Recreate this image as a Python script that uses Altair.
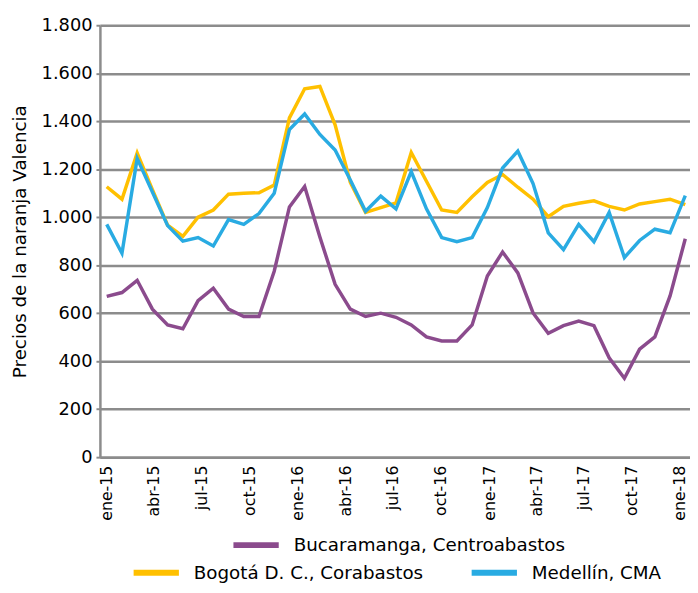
import altair as alt
import pandas as pd

# ---- data ----
serie_nombres = ["Bucaramanga, Centroabastos", "Bogotá D. C., Corabastos", "Medellín, CMA"]
serie_colores = ["#8B4B8D", "#FFC000", "#29ABE2"]

# 39 evenly spaced observations between ene-15 and ene-18
fecha_inicio = "2015-01-01"
fecha_fin = "2018-01-11"
n_obs = 39

bucaramanga = [670, 686, 737, 617, 551, 535, 652, 704, 617, 586,
               586, 775, 1043, 1128, 918, 720, 617, 586, 600, 583,
               551, 501, 484, 484, 551, 755, 855, 768, 601, 516,
               548, 567, 548, 414, 329, 450, 501, 672, 910]
bogota = [1127, 1075, 1268, 1115, 967, 920, 1000, 1030, 1096, 1100,
          1102, 1134, 1414, 1535, 1545, 1385, 1145, 1020, 1040, 1060,
          1270, 1150, 1030, 1020, 1085, 1145, 1178, 1125, 1075, 1002,
          1045, 1058, 1068, 1045, 1030, 1055, 1065, 1075, 1052]
medellin = [970, 850, 1245, 1105, 965, 900, 915, 880, 990, 970,
            1015, 1100, 1365, 1430, 1345, 1280, 1155, 1025, 1088, 1035,
            1190, 1035, 915, 898, 915, 1040, 1205, 1275, 1140, 935,
            865, 970, 898, 1020, 832, 903, 950, 935, 1090]

y_ticks = [0, 200, 400, 600, 800, 1000, 1200, 1400, 1600, 1800]
x_tick_years_months = [(2015, 1), (2015, 4), (2015, 7), (2015, 10),
                       (2016, 1), (2016, 4), (2016, 7), (2016, 10),
                       (2017, 1), (2017, 4), (2017, 7), (2017, 10),
                       (2018, 1)]
meses_es = ['ene', 'feb', 'mar', 'abr', 'may', 'jun', 'jul', 'ago', 'sep', 'oct', 'nov', 'dic']

# ---- build table ----
fechas = pd.date_range(fecha_inicio, fecha_fin, periods=n_obs).round("h").strftime("%Y-%m-%dT%H:%M:%S")
rows = []
for nombre, valores in zip(serie_nombres, [bucaramanga, bogota, medellin]):
    for f, v in zip(fechas, valores):
        rows.append({"fecha": f, "serie": nombre, "precio": v})
df = pd.DataFrame(rows)
df_a = df[df["serie"] == serie_nombres[0]]
df_b = df[df["serie"] != serie_nombres[0]]

FONT = "DejaVu Sans"
GRID = "#8c8c8c"

month_array = "[" + ",".join("'%s'" % m for m in meses_es) + "]"
x_label_expr = month_array + "[month(datum.value)] + '-' + timeFormat(datum.value, '%y')"
y_label_expr = "replace(format(datum.value, ','), ',', '.')"

x_enc = alt.X(
    "fecha:T",
    scale=alt.Scale(domain=[alt.DateTime(year=2014, month=12, date=19),
                            alt.DateTime(year=2018, month=1, date=20)]),
    axis=alt.Axis(
        values=[alt.DateTime(year=y, month=m, date=1) for y, m in x_tick_years_months],
        labelExpr=x_label_expr,
        labelAngle=270,
        labelFont=FONT, labelFontSize=16, labelColor="black",
        labelPadding=8, ticks=False, grid=False,
        domainColor=GRID, domainWidth=2.5, title=None,
        labelOverlap=False,
    ),
)
y_enc = alt.Y(
    "precio:Q",
    scale=alt.Scale(domain=[0, 1800], nice=False),
    axis=alt.Axis(
        values=y_ticks,
        labelExpr=y_label_expr,
        labelFont=FONT, labelFontSize=18, labelColor="black", labelPadding=4,
        tickSize=4, tickColor=GRID, tickWidth=2,
        grid=True, gridColor=GRID, gridWidth=2.5,
        domainColor=GRID, domainWidth=2.5,
        title="Precios de la naranja Valencia",
        titleFont=FONT, titleFontSize=18.5, titleFontWeight="normal", titleColor="black",
        titlePadding=12,
    ),
)

legend_common = dict(
    orient="none", title=None, symbolType="stroke", symbolStrokeWidth=6,
    symbolSize=2100, labelFont=FONT, labelFontSize=18.5, labelColor="black",
    labelOffset=12, labelLimit=500, padding=0, direction="horizontal",
)

layer_a = alt.Chart(df_a).mark_line(strokeWidth=3.5, strokeJoin="miter").encode(
    x=x_enc, y=y_enc,
    color=alt.Color("serie:N",
                    scale=alt.Scale(domain=[serie_nombres[0]], range=[serie_colores[0]]),
                    legend=alt.Legend(legendX=132, legendY=500, **legend_common)),
)
layer_b = alt.Chart(df_b).mark_line(strokeWidth=3.5, strokeJoin="miter").encode(
    x=x_enc, y=y_enc,
    stroke=alt.Stroke("serie:N",
                      scale=alt.Scale(domain=serie_nombres[1:], range=serie_colores[1:]),
                      legend=alt.Legend(legendX=31, legendY=528, columns=2,
                                        columnPadding=36, **legend_common)),
)

chart = alt.layer(layer_a, layer_b).resolve_scale(color="independent").properties(
    width=597, height=437,
    autosize=alt.AutoSizeParams(type="none"),
    padding={"left": 93, "top": 14, "right": 0, "bottom": 134},
).configure_view(stroke=None).configure(background="white")

chart.save("out.html", embed_options={"renderer": "svg", "actions": False})
